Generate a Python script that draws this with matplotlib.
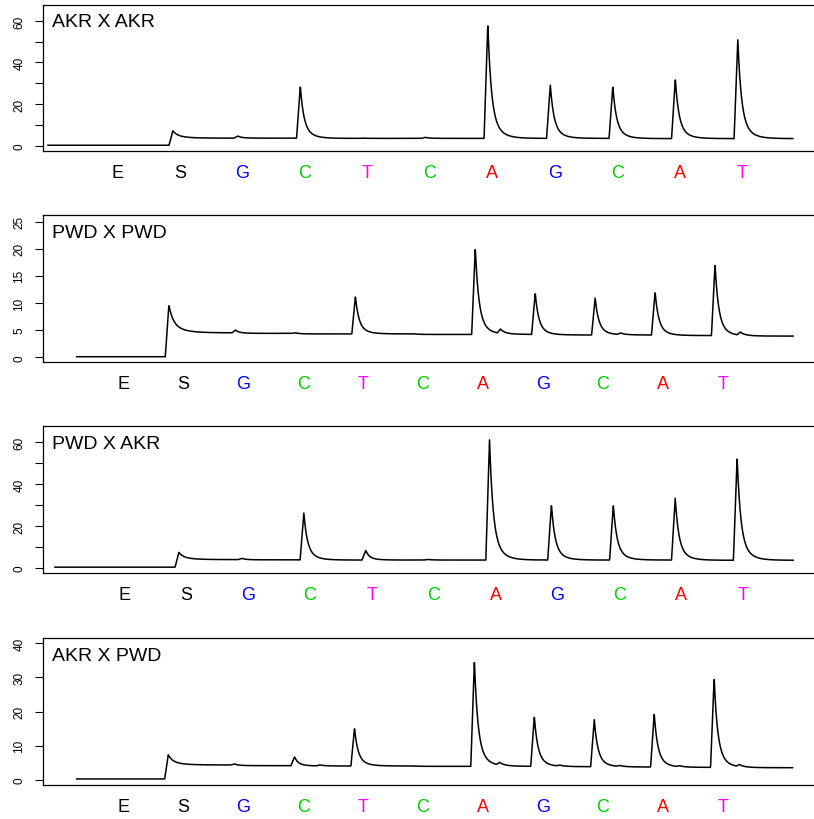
#!/usr/bin/env python3
"""Pyrograms for the four crosses (AKR/PWD), one panel per cross.

Each panel is an idealised pyrosequencing trace: a step at the substrate (S)
dispensation, then one sharp peak per nucleotide dispensation with a
two-speed exponential tail. Peak heights and baselines were read off the
figure.
"""

import numpy as np
import matplotlib

matplotlib.use("Agg")
import matplotlib.pyplot as plt  # noqa: E402

plt.rcParams["font.family"] = ["Liberation Sans", "DejaVu Sans"]

# dispensation order shown under every panel
DISPENSATION = ["E", "S", "G", "C", "T", "C", "A", "G", "C", "A", "T"]

TITLES = ["AKR X AKR", "PWD X PWD", "PWD X AKR", "AKR X PWD"]

# peak top (absolute signal) for each dispensation
PEAK_AKR_AKR = [0.2, 7.2, 4.6, 28.5, 3.6, 4.0, 58.4, 29.1, 28.5, 32.0, 50.9]
PEAK_PWD_PWD = [0.1, 9.6, 5.0, 4.5, 11.2, 4.3, 20.1, 11.8, 10.9, 12.0, 17.1]
PEAK_PWD_AKR = [0.3, 7.4, 4.5, 26.2, 8.3, 4.0, 61.2, 30.1, 30.0, 33.3, 52.8]
PEAK_AKR_PWD = [0.2, 7.3, 4.6, 6.7, 15.1, 4.0, 34.9, 18.5, 17.6, 19.4, 29.8]

# baseline level after each dispensation
BASE_AKR_AKR = [0.2, 3.6, 3.6, 3.5, 3.5, 3.5, 3.5, 3.5, 3.4, 3.4, 3.4]
BASE_PWD_PWD = [0.1, 4.5, 4.4, 4.3, 4.3, 4.2, 4.2, 4.1, 4.1, 4.0, 3.9]
BASE_PWD_AKR = [0.3, 3.9, 3.8, 3.7, 3.7, 3.7, 3.7, 3.7, 3.7, 3.6, 3.6]
BASE_AKR_PWD = [0.2, 4.3, 4.1, 4.0, 4.0, 3.9, 3.9, 3.8, 3.7, 3.6, 3.5]

# small trailing bump after each dispensation
LAG_AKR_AKR = [0, 0, 0, 0, 0, 0, 0, 0, 0, 0, 0]
LAG_PWD_PWD = [0, 0, 0, 0, 0, 0, 0.8, 0, 0.3, 0, 0.6]
LAG_PWD_AKR = [0, 0, 0, 0, 0, 0, 0, 0, 0, 0, 0]
LAG_AKR_PWD = [0, 0, 0, 0.3, 0, 0, 0.8, 0.3, 0.3, 0.3, 0.6]

PEAKS = [PEAK_AKR_AKR, PEAK_PWD_PWD, PEAK_PWD_AKR, PEAK_AKR_PWD]
BASES = [BASE_AKR_AKR, BASE_PWD_PWD, BASE_PWD_AKR, BASE_AKR_PWD]
LAGS = [LAG_AKR_AKR, LAG_PWD_PWD, LAG_PWD_AKR, LAG_AKR_PWD]

BASE_COLOR = {
    "E": "black",
    "S": "black",
    "G": "#0000ff",
    "C": "#00cd00",
    "T": "#ff00ff",
    "A": "#ff0000",
}

# per-panel layout (x in dispensation units, E = 0); axes run to the
# right edge of the figure, so the right spine is never drawn
LEFT = 0.0532
WIDTH = 1.0 - LEFT
LAYOUT = [
    dict(rect=(LEFT, 0.8143, WIDTH, 0.1788), xlim=(-1.184, 11.147),
         span=(-1.109, 10.811), lag=-0.072, s_lag=-0.112,
         ylim=(-2.7, 67.8), yticks=range(0, 61, 10), ylabels=[0, 20, 40, 60]),
    dict(rect=(LEFT, 0.5570, WIDTH, 0.1796), xlim=(-1.335, 11.523),
         span=(-0.777, 11.178), lag=-0.128, s_lag=-0.24,
         ylim=(-0.92, 26.2), yticks=range(0, 26, 5), ylabels=[0, 5, 10, 15, 20, 25]),
    dict(rect=(LEFT, 0.3000, WIDTH, 0.1789), xlim=(-1.309, 11.142),
         span=(-1.12, 10.808), lag=-0.10, s_lag=-0.12,
         ylim=(-2.5, 67.7), yticks=range(0, 61, 10), ylabels=[0, 20, 40, 60]),
    dict(rect=(LEFT, 0.0418, WIDTH, 0.1785), xlim=(-1.335, 11.523),
         span=(-0.777, 11.168), lag=-0.143, s_lag=-0.25,
         ylim=(-1.5, 41.5), yticks=range(0, 41, 10), ylabels=[0, 10, 20, 30, 40]),
]

STEP = 0.003
RISE = 0.06


def _pulse(x, x0, h, rise, fast, slow, w_slow):
    """Linear rise up to x0, fast + slow exponential decay after."""
    t = x - x0
    y = np.zeros_like(x)
    up = (t >= -rise) & (t < 0)
    y[up] = h * (1 + t[up] / rise)
    dn = t >= 0
    y[dn] = h * ((1 - w_slow) * np.exp(-t[dn] / fast)
                 + w_slow * np.exp(-t[dn] / slow))
    return y


def _trace(peak, base, lag, lay):
    x = np.arange(lay["span"][0], lay["span"][1], STEP)
    y = np.full_like(x, base[0])
    for i in range(1, len(DISPENSATION)):
        x0 = i + (lay["s_lag"] if i == 1 else lay["lag"])
        # baseline shift ramps in with the rise
        y += (base[i] - base[i - 1]) * np.clip((x - x0 + RISE) / RISE, 0, 1)
        if i == 1:
            y += _pulse(x, x0, peak[i] - base[i], RISE, 0.07, 0.2, 0.35)
        else:
            y += _pulse(x, x0, peak[i] - base[i], RISE, 0.055, 0.14, 0.25)
        if lag[i]:
            y += _pulse(x, x0 + 0.42, lag[i], 0.05, 0.06, 0.15, 0.3)
    return x, y


def main():
    fig = plt.figure(figsize=(8.14, 8.2), dpi=100)

    for title, peak, base, lag, lay in zip(TITLES, PEAKS, BASES, LAGS, LAYOUT):
        ax = fig.add_axes(lay["rect"])
        x, y = _trace(peak, base, lag, lay)
        ax.plot(x, y, color="black", lw=1.1, solid_joinstyle="round")

        ax.set_xlim(*lay["xlim"])
        ax.set_ylim(*lay["ylim"])
        ax.set_xticks([])
        ax.set_yticks(list(lay["yticks"]))
        ax.set_yticklabels([str(v) if v in lay["ylabels"] else ""
                            for v in lay["yticks"]])
        ax.tick_params(axis="y", length=5.8, width=0.8, pad=7, labelsize=8.5,
                       labelrotation=90)
        for lbl in ax.get_yticklabels():
            lbl.set_va("center")
        ax.spines["right"].set_visible(False)
        for side in ("left", "top", "bottom"):
            ax.spines[side].set_linewidth(0.9)

        ax.text(0.011, 0.852, title, transform=ax.transAxes,
                fontsize=14, ha="left", va="baseline")

        for i, b in enumerate(DISPENSATION):
            ax.text(i, -0.177, b, transform=ax.get_xaxis_transform(),
                    color=BASE_COLOR[b], fontsize=13, ha="center",
                    va="baseline", clip_on=False)

    fig.savefig("out.png", dpi=100)
    plt.close(fig)


if __name__ == "__main__":
    main()
